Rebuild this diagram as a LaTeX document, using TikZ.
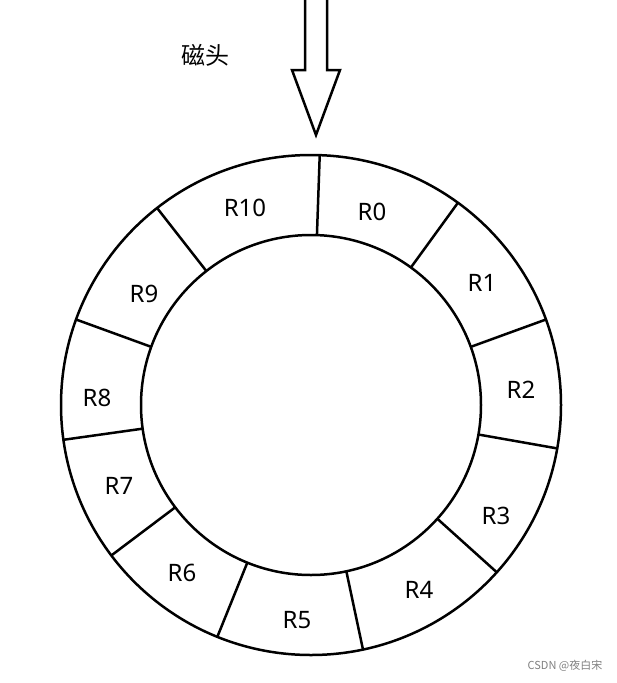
\documentclass[tikz,border=0pt]{standalone}
\usepackage{fontspec}
\setmainfont{Noto Sans}
\newfontfamily\cjk{Noto Sans CJK SC}
\begin{document}
\begin{tikzpicture}[x=1pt,y=-1pt,line width=2.5pt,
  lab/.style={font=\fontsize{24}{28}\selectfont}]
\useasboundingbox (0,0) rectangle (617,683);
\coordinate (c) at (311,405);
\draw (c) circle[radius=250];
\draw (c) circle[radius=170];
\begin{scope}[shift={(311,405)}]
\foreach \a in {88,54,20,-10,-42,-78,-112,-143,-172,160,128}{
  \draw (-\a:170) -- (-\a:250);
}
\end{scope}
\foreach \t/\x/\y in {R0/372/212,R1/482/283,R2/521/390,R3/496/516,R4/419/590,R5/297/620,R6/182/573,R7/119/486,R8/97/398,R9/144/294,R10/245/208}{
  \node[lab] (n\t) at (\x,\y) {\t};
}
\draw[line width=2.5pt,line join=miter] (305,0) -- (305,70) -- (292,70) -- (316,135) -- (340,70) -- (327,70) -- (327,0);
\node[font=\cjk\fontsize{24}{28}\selectfont] (head) at (205,55) {磁头};
\node[font=\cjk\fontsize{11}{13}\selectfont,text=gray] (wm) at (565,666) {CSDN @夜白宋};
\end{tikzpicture}
\end{document}
